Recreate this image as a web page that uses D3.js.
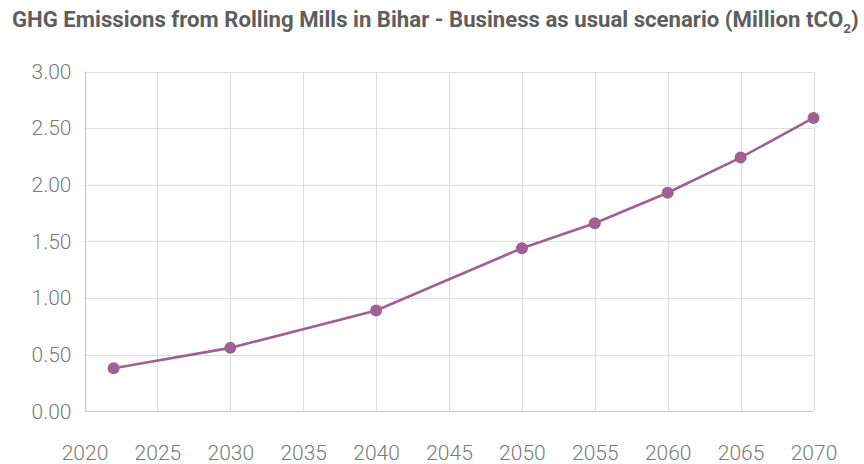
<!DOCTYPE html>
<html>
<head>
<meta charset="utf-8">
<script src="https://cdn.jsdelivr.net/npm/d3@7"></script>
<style>
  html, body { margin: 0; padding: 0; background: #fff; }
  svg { display: block; }
</style>
</head>
<body>
<svg id="chart" width="864" height="464"></svg>
<script>
// Emissions series (Million tCO2), business-as-usual scenario
const years = [2022, 2030, 2040, 2050, 2055, 2060, 2065, 2070];
const emissions = [0.38, 0.56, 0.89, 1.44, 1.66, 1.93, 2.24, 2.59];
const yTicks = [0, 0.5, 1.0, 1.5, 2.0, 2.5, 3.0];
const xTicks = [2020, 2025, 2030, 2035, 2040, 2045, 2050, 2055, 2060, 2065, 2070];

const svg = d3.select("#chart");
const margin = { left: 84.5, right: 50.5, top: 71.5, bottom: 52.5 };
const W = 864, H = 464;

const x = d3.scaleLinear().domain([2020, 2070]).range([margin.left, W - margin.right]);
const y = d3.scaleLinear().domain([0, 3]).range([H - margin.bottom - 0.2, margin.top]);

// Title with subscript, compressed horizontally to a condensed look
const title = svg.append("text")
  .attr("x", 0).attr("y", 0)
  .attr("font-family", "Roboto, sans-serif")
  .attr("font-weight", 700)
  .attr("font-size", 22)
  .attr("fill", "#5e5e5e");
title.append("tspan").text("GHG Emissions from Rolling Mills in Bihar - Business as usual scenario (Million tCO");
title.append("tspan").attr("font-size", 13.5).attr("dy", 6).text("2");
title.append("tspan").attr("dy", -6).text(")");
const tw = title.node().getComputedTextLength();
const targetW = 847;
title.attr("transform", `translate(12,27) scale(${targetW / tw},1)`);

// Gridlines
const grid = svg.append("g");
grid.selectAll("line.h").data(yTicks).join("line")
  .attr("x1", margin.left).attr("x2", W - margin.right)
  .attr("y1", d => Math.round(y(d)) + 0.5).attr("y2", d => Math.round(y(d)) + 0.5)
  .attr("stroke", d => d === 0 ? "#c9c9c9" : "#dedede").attr("stroke-width", 1.2);
grid.selectAll("line.v").data(xTicks).join("line")
  .attr("y1", y(3)).attr("y2", y(0))
  .attr("x1", d => Math.round(x(d)) + 0.5).attr("x2", d => Math.round(x(d)) + 0.5)
  .attr("stroke", d => d === 2020 ? "#c9c9c9" : "#dedede").attr("stroke-width", 1.2);

// Axes (labels only; lines drawn by the grid)
const yAxis = d3.axisLeft(y).tickValues(yTicks).tickFormat(d3.format(".2f")).tickSize(0).tickPadding(13);
const gy = svg.append("g").attr("transform", `translate(${margin.left},0)`).call(yAxis);
gy.select(".domain").remove();
gy.selectAll("text")
  .attr("font-family", "Roboto, sans-serif")
  .attr("font-weight", 300)
  .attr("font-size", 21)
  .attr("fill", "#7a7a7a");

const xAxis = d3.axisBottom(x).tickValues(xTicks).tickFormat(d3.format("d")).tickSize(0).tickPadding(34);
const gx = svg.append("g").attr("transform", `translate(0,${y(0)})`).call(xAxis);
gx.select(".domain").remove();
gx.selectAll("text")
  .attr("font-family", "Roboto, sans-serif")
  .attr("font-weight", 300)
  .attr("font-size", 21)
  .attr("fill", "#7a7a7a");

// Series line and markers
const data = years.map((yr, i) => ({ yr, v: emissions[i] }));
const line = d3.line().x(d => x(d.yr)).y(d => y(d.v));
svg.append("path").datum(data)
  .attr("d", line)
  .attr("fill", "none")
  .attr("stroke", "#9f6094")
  .attr("stroke-width", 2.6);
svg.selectAll("circle.pt").data(data).join("circle")
  .attr("cx", d => x(d.yr)).attr("cy", d => y(d.v))
  .attr("r", 6)
  .attr("fill", "#9f6094");
</script>
</body>
</html>
